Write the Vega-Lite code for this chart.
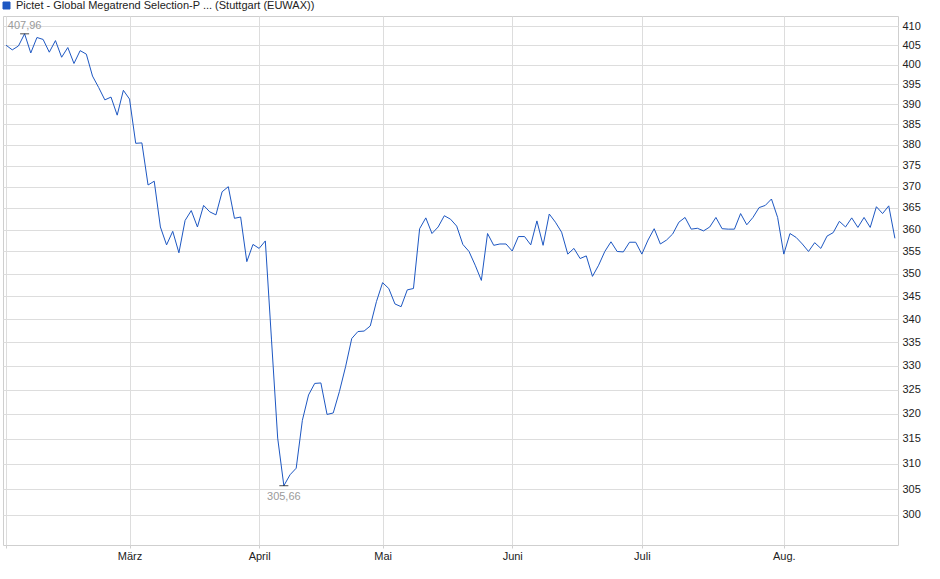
{
  "$schema": "https://vega.github.io/schema/vega-lite/v6.json",
  "width": 895,
  "height": 529,
  "autosize": "none",
  "padding": {"left": 3, "top": 16, "right": 42, "bottom": 34},
  "background": "white",
  "data": {"values": [
    {"d": "2025-02-03", "v": 405.0}, {"d": "2025-02-04", "v": 403.8}, {"d": "2025-02-05", "v": 404.8}, {"d": "2025-02-06", "v": 407.96},
    {"d": "2025-02-07", "v": 403.0}, {"d": "2025-02-10", "v": 407.0}, {"d": "2025-02-11", "v": 406.5}, {"d": "2025-02-12", "v": 403.2},
    {"d": "2025-02-13", "v": 406.2}, {"d": "2025-02-14", "v": 401.9}, {"d": "2025-02-17", "v": 404.4}, {"d": "2025-02-18", "v": 400.3},
    {"d": "2025-02-19", "v": 403.6}, {"d": "2025-02-20", "v": 402.7}, {"d": "2025-02-21", "v": 397.1}, {"d": "2025-02-24", "v": 394.2},
    {"d": "2025-02-25", "v": 391.1}, {"d": "2025-02-26", "v": 391.8}, {"d": "2025-02-27", "v": 387.3}, {"d": "2025-02-28", "v": 393.5},
    {"d": "2025-03-03", "v": 391.3}, {"d": "2025-03-04", "v": 380.4}, {"d": "2025-03-05", "v": 380.5}, {"d": "2025-03-06", "v": 370.4},
    {"d": "2025-03-07", "v": 371.3}, {"d": "2025-03-10", "v": 360.6}, {"d": "2025-03-11", "v": 356.5}, {"d": "2025-03-12", "v": 359.6},
    {"d": "2025-03-13", "v": 354.7}, {"d": "2025-03-14", "v": 362.1}, {"d": "2025-03-17", "v": 364.4}, {"d": "2025-03-18", "v": 360.6},
    {"d": "2025-03-19", "v": 365.6}, {"d": "2025-03-20", "v": 364.1}, {"d": "2025-03-21", "v": 363.4}, {"d": "2025-03-24", "v": 368.8},
    {"d": "2025-03-25", "v": 370.0}, {"d": "2025-03-26", "v": 362.6}, {"d": "2025-03-27", "v": 362.9}, {"d": "2025-03-28", "v": 352.7},
    {"d": "2025-03-31", "v": 356.6},
    {"d": "2025-04-01", "v": 355.7}, {"d": "2025-04-02", "v": 357.4}, {"d": "2025-04-03", "v": 335.5}, {"d": "2025-04-04", "v": 315.1},
    {"d": "2025-04-07", "v": 305.66}, {"d": "2025-04-08", "v": 307.8}, {"d": "2025-04-09", "v": 309.1}, {"d": "2025-04-10", "v": 318.7},
    {"d": "2025-04-11", "v": 323.9}, {"d": "2025-04-14", "v": 326.3}, {"d": "2025-04-15", "v": 326.4}, {"d": "2025-04-16", "v": 319.9},
    {"d": "2025-04-17", "v": 320.2}, {"d": "2025-04-22", "v": 324.6}, {"d": "2025-04-23", "v": 329.8}, {"d": "2025-04-24", "v": 335.8},
    {"d": "2025-04-25", "v": 337.3}, {"d": "2025-04-28", "v": 337.4}, {"d": "2025-04-29", "v": 338.5}, {"d": "2025-04-30", "v": 343.8},
    {"d": "2025-05-02", "v": 348.0}, {"d": "2025-05-05", "v": 346.7}, {"d": "2025-05-06", "v": 343.3}, {"d": "2025-05-07", "v": 342.7},
    {"d": "2025-05-08", "v": 346.4}, {"d": "2025-05-09", "v": 346.7}, {"d": "2025-05-12", "v": 360.2}, {"d": "2025-05-13", "v": 362.7},
    {"d": "2025-05-14", "v": 359.1}, {"d": "2025-05-15", "v": 360.6}, {"d": "2025-05-16", "v": 363.2}, {"d": "2025-05-19", "v": 362.4},
    {"d": "2025-05-20", "v": 360.8}, {"d": "2025-05-21", "v": 356.6}, {"d": "2025-05-22", "v": 355.0}, {"d": "2025-05-23", "v": 351.9},
    {"d": "2025-05-26", "v": 348.5}, {"d": "2025-05-27", "v": 359.1}, {"d": "2025-05-28", "v": 356.4}, {"d": "2025-05-29", "v": 356.7},
    {"d": "2025-05-30", "v": 356.7},
    {"d": "2025-06-02", "v": 355.1}, {"d": "2025-06-03", "v": 358.4}, {"d": "2025-06-04", "v": 358.4}, {"d": "2025-06-05", "v": 356.5},
    {"d": "2025-06-06", "v": 362.0}, {"d": "2025-06-09", "v": 356.4}, {"d": "2025-06-10", "v": 363.6}, {"d": "2025-06-11", "v": 361.7},
    {"d": "2025-06-12", "v": 359.4}, {"d": "2025-06-13", "v": 354.4}, {"d": "2025-06-16", "v": 355.7}, {"d": "2025-06-17", "v": 353.4},
    {"d": "2025-06-18", "v": 354.0}, {"d": "2025-06-19", "v": 349.4}, {"d": "2025-06-20", "v": 351.9}, {"d": "2025-06-23", "v": 355.0},
    {"d": "2025-06-24", "v": 357.2}, {"d": "2025-06-25", "v": 355.0}, {"d": "2025-06-26", "v": 354.9}, {"d": "2025-06-27", "v": 357.1},
    {"d": "2025-06-30", "v": 357.1},
    {"d": "2025-07-01", "v": 354.4}, {"d": "2025-07-02", "v": 357.6}, {"d": "2025-07-03", "v": 360.2}, {"d": "2025-07-04", "v": 356.7},
    {"d": "2025-07-07", "v": 357.6}, {"d": "2025-07-08", "v": 359.0}, {"d": "2025-07-09", "v": 361.7}, {"d": "2025-07-10", "v": 362.8},
    {"d": "2025-07-11", "v": 360.1}, {"d": "2025-07-14", "v": 360.3}, {"d": "2025-07-15", "v": 359.7}, {"d": "2025-07-16", "v": 360.6},
    {"d": "2025-07-17", "v": 362.8}, {"d": "2025-07-18", "v": 360.2}, {"d": "2025-07-21", "v": 360.1}, {"d": "2025-07-22", "v": 360.1},
    {"d": "2025-07-23", "v": 363.7}, {"d": "2025-07-24", "v": 361.1}, {"d": "2025-07-25", "v": 362.8}, {"d": "2025-07-28", "v": 365.1},
    {"d": "2025-07-29", "v": 365.6}, {"d": "2025-07-30", "v": 367.1}, {"d": "2025-07-31", "v": 362.8},
    {"d": "2025-08-01", "v": 354.4}, {"d": "2025-08-04", "v": 359.1}, {"d": "2025-08-05", "v": 358.2}, {"d": "2025-08-06", "v": 356.7},
    {"d": "2025-08-07", "v": 355.0}, {"d": "2025-08-08", "v": 357.0}, {"d": "2025-08-11", "v": 355.7}, {"d": "2025-08-12", "v": 358.5},
    {"d": "2025-08-13", "v": 359.3}, {"d": "2025-08-14", "v": 361.9}, {"d": "2025-08-15", "v": 360.6}, {"d": "2025-08-18", "v": 362.7},
    {"d": "2025-08-19", "v": 360.5}, {"d": "2025-08-20", "v": 362.8}, {"d": "2025-08-21", "v": 360.5}, {"d": "2025-08-22", "v": 365.3},
    {"d": "2025-08-25", "v": 363.7}, {"d": "2025-08-26", "v": 365.5}, {"d": "2025-08-27", "v": 358.0}
  ]},
  "encoding": {
    "x": {
      "field": "d",
      "type": "ordinal",
      "sort": null,
      "scale": {"type": "point", "padding": 0.5},
      "axis": {
        "title": null,
        "orient": "bottom",
        "values": ["2025-02-03", "2025-03-03", "2025-04-01", "2025-05-02", "2025-06-02", "2025-07-01", "2025-08-01"],
        "labelExpr": "datum.value == '2025-03-03' ? 'März' : datum.value == '2025-04-01' ? 'April' : datum.value == '2025-05-02' ? 'Mai' : datum.value == '2025-06-02' ? 'Juni' : datum.value == '2025-07-01' ? 'Juli' : datum.value == '2025-08-01' ? 'Aug.' : ''",
        "labelAngle": 0,
        "labelPadding": 2,
        "tickSize": 3,
        "domain": false,
        "grid": true
      }
    },
    "y": {
      "field": "v",
      "type": "quantitative",
      "scale": {"type": "log", "domain": [294.3, 412.63], "nice": false, "zero": false},
      "axis": {
        "title": null,
        "orient": "right",
        "values": [300, 305, 310, 315, 320, 325, 330, 335, 340, 345, 350, 355, 360, 365, 370, 375, 380, 385, 390, 395, 400, 405, 410],
        "format": "d",
        "ticks": false,
        "domain": false,
        "labelPadding": 4,
        "grid": true
      }
    }
  },
  "layer": [
    {
      "mark": {"type": "line", "strokeWidth": 1, "interpolate": "linear"},
      "encoding": {
        "color": {
          "datum": "Pictet - Global Megatrend Selection-P ... (Stuttgart (EUWAX))",
          "type": "nominal",
          "scale": {"range": ["#1d57c2"]},
          "legend": {
            "title": null,
            "orient": "none",
            "legendX": -2,
            "legendY": -16,
            "padding": 0,
            "symbolType": "square",
            "symbolSize": 49,
            "symbolFillColor": "#1d57c2",
            "symbolStrokeColor": "#10306e",
            "symbolStrokeWidth": 1,
            "labelFontSize": 11,
            "labelColor": "#222222",
            "labelOffset": 4,
            "labelLimit": 800
          }
        }
      }
    },
    {
      "transform": [
        {"joinaggregate": [{"op": "max", "field": "v", "as": "hi"}]},
        {"filter": "datum.v == datum.hi"},
        {"calculate": "replace(format(datum.v, '.2f'), '.', ',')", "as": "lbl"}
      ],
      "layer": [
        {"mark": {"type": "tick", "orient": "horizontal", "size": 9, "thickness": 1, "color": "#000000"}},
        {"mark": {"type": "text", "dy": -8, "fontSize": 11, "color": "#9a9a9a", "baseline": "middle"}, "encoding": {"text": {"field": "lbl"}}}
      ]
    },
    {
      "transform": [
        {"joinaggregate": [{"op": "min", "field": "v", "as": "lo"}]},
        {"filter": "datum.v == datum.lo"},
        {"calculate": "replace(format(datum.v, '.2f'), '.', ',')", "as": "lbl"}
      ],
      "layer": [
        {"mark": {"type": "tick", "orient": "horizontal", "size": 9, "thickness": 1, "color": "#000000"}},
        {"mark": {"type": "text", "dy": 11, "fontSize": 11, "color": "#9a9a9a", "baseline": "middle"}, "encoding": {"text": {"field": "lbl"}}}
      ]
    }
  ],
  "config": {
    "font": "Liberation Sans",
    "view": {"stroke": "#cfcfcf", "strokeWidth": 1},
    "axis": {
      "gridColor": "#dddddd",
      "gridWidth": 1,
      "tickColor": "#cfcfcf",
      "labelFontSize": 11,
      "labelColor": "#222222",
      "labelFont": "Liberation Sans"
    },
    "legend": {"labelFont": "Liberation Sans"}
  }
}
